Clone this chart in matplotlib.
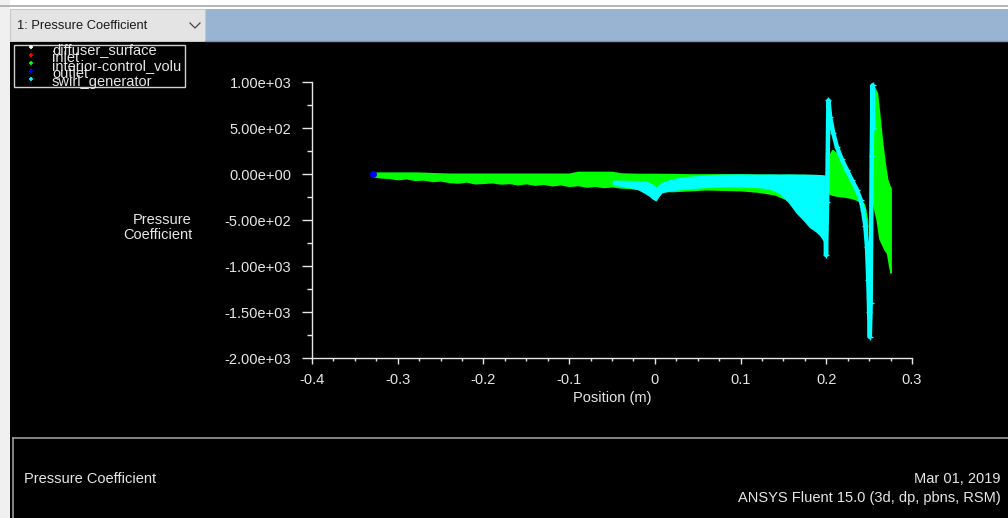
import matplotlib
matplotlib.use('Agg')
import matplotlib.pyplot as plt
from matplotlib.patches import Rectangle
from matplotlib.ticker import MultipleLocator, FuncFormatter

NARROW = ['Liberation Sans Narrow', 'Liberation Sans', 'DejaVu Sans']
FS = 10.5

# interior-control_volume: main band (top / bottom edge of the cloud)
green_x = [-0.329, -0.32, -0.31, -0.30, -0.29, -0.28, -0.27, -0.26, -0.25, -0.24,
           -0.23, -0.22, -0.21, -0.20, -0.19, -0.18, -0.17, -0.16, -0.15, -0.14,
           -0.13, -0.12, -0.11, -0.10, -0.09, -0.08, -0.07, -0.06, -0.05, -0.04,
           -0.03, -0.02, -0.01, 0.00, 0.02, 0.04, 0.06, 0.08, 0.10, 0.12,
           0.14, 0.16, 0.18, 0.19, 0.199]
green_top = [14, 14, 14, 14, 14, 14, 12, 8, 5, 2,
             2, 2, 2, 2, 2, 2, 2, 2, 2, 2,
             2, 2, 2, 2, 22, 22, 22, 22, 22, 5,
             2, 0, 0, 0, -2, -5, -5, -5, -5, -8,
             -10, -10, -12, -15, -20]
green_bot = [-25, -35, -40, -55, -45, -62, -58, -75, -68, -85,
             -92, -80, -100, -95, -88, -102, -96, -110, -98, -115,
             -104, -122, -110, -128, -118, -135, -126, -140, -132, -145,
             -150, -160, -170, -180, -185, -175, -165, -170, -175, -190,
             -220, -300, -420, -520, -600]

# swirl_generator: band along the lower side before x = 0.2
cyan_x = [-0.049, -0.04, -0.03, -0.02, -0.011, -0.006, -0.003, 0.001, 0.004, 0.008,
          0.018, 0.03, 0.041, 0.06, 0.076, 0.10, 0.123, 0.135, 0.146, 0.156,
          0.166, 0.174, 0.181, 0.188, 0.193, 0.197]
cyan_top = [-76, -76, -78, -80, -87, -100, -120, -150, -130, -100,
            -65, -45, -33, -20, -11, -8, -10, -8, -10, -8,
            -10, -10, -12, -12, -15, -20]
cyan_bot = [-110, -125, -140, -160, -206, -235, -261, -283, -240, -196,
            -174, -162, -152, -138, -130, -132, -141, -160, -206, -300,
            -424, -500, -576, -620, -663, -720]

# swirl_generator: the two spikes and the decay between them
spike_x = [0.1990, 0.1997, 0.2010, 0.2025, 0.2045, 0.2080, 0.2125, 0.2180, 0.2242, 0.2300,
           0.2358, 0.2400, 0.2428, 0.2455, 0.2475, 0.2490, 0.2500, 0.2508, 0.2518, 0.2530,
           0.2540, 0.2548]
spike_y = [-600, -880, -300, 800, 620, 450, 290, 160, 40, -70,
           -175, -280, -390, -560, -790, -1150, -1500, -1770, -1400, 200,
           965, 500]

# interior-control_volume: wedge under the decay and tail right of the spike
wedge_x = [0.2035, 0.2070, 0.2125, 0.2180, 0.2242, 0.2300, 0.2358, 0.2400, 0.2440, 0.2475]
wedge_top = [200, 260, 220, 120, 10, -90, -190, -290, -420, -640]
wedge_bot = [-210, -225, -235, -240, -250, -260, -280, -300, -330, -500]

tail_x = [0.2545, 0.2565, 0.2590, 0.2620, 0.2650, 0.2680, 0.2710, 0.2735, 0.2750]
tail_top = [960, 930, 880, 620, 350, 120, -60, -130, -150]
tail_bot = [-300, -400, -500, -700, -760, -820, -860, -1000, -1070]

outlet_x = [-0.329]
outlet_y = [-5]

legend_names = ['diffuser_surface', 'inlet', 'interior-control_volu', 'outlet', 'swirl_generator']
legend_colors = ['#ffffff', '#ff0000', '#00ff00', '#0000ff', '#00ffff']

GREEN = '#00ff00'
CYAN = '#00ffff'
FG = '#e6e6e6'

W, H = 1008, 518
fig = plt.figure(figsize=(W / 100, H / 100), dpi=100)
fig.patch.set_facecolor('#000000')

# ---- window chrome, drawn in pixel coordinates ----
bg = fig.add_axes([0, 0, 1, 1], zorder=0)
bg.set_xlim(0, W)
bg.set_ylim(H, 0)
bg.axis('off')
bg.add_patch(Rectangle((0, 0), W, 42, facecolor='#ffffff', edgecolor='none'))
bg.add_patch(Rectangle((0, 0), 10, H, facecolor='#f0f0f0', edgecolor='none'))
bg.plot([0, W], [5.5, 5.5], color='#a8a8a8', lw=1.2)
bg.add_patch(Rectangle((205, 9), W - 205, 32, facecolor='#98b4d2', edgecolor='none'))
bg.plot([205, W], [41, 41], color='#7b94b0', lw=1)
bg.add_patch(Rectangle((10, 9), 195, 32, facecolor='#e4e4e4', edgecolor='#c8c8c8', lw=0.8))
bg.text(17, 26, '1: Pressure Coefficient', fontsize=9.3, color='#1a1a1a',
        family=['Liberation Sans', 'DejaVu Sans'], ha='left', va='center')
bg.plot([190, 195, 200], [23, 28, 23], color='#444444', lw=0.9)
bg.add_patch(Rectangle((10, 42), W - 10, H - 42, facecolor='#000000', edgecolor='none'))
bg.plot([12.5, W], [437.5, 437.5], color='#9a9a9a', lw=1.2)
bg.plot([12.5, 12.5], [437.5, H], color='#9a9a9a', lw=1.2)
bg.text(24, 479, 'Pressure Coefficient', fontsize=FS, color=FG, family=NARROW,
        ha='left', va='center')
bg.text(1001, 479, 'Mar 01, 2019', fontsize=FS, color=FG, family=NARROW,
        ha='right', va='center')
bg.text(1001, 498, 'ANSYS Fluent 15.0 (3d, dp, pbns, RSM)', fontsize=FS, color=FG,
        family=NARROW, ha='right', va='center')

# legend box
bg.add_patch(Rectangle((13.5, 44.5), 171, 42, facecolor='#000000', edgecolor='#d0d0d0', lw=1))
for i, (name, col) in enumerate(zip(legend_names, legend_colors)):
    yy = 50 + i * 8
    bg.plot([31], [yy - 3], marker='+', ms=3.5, mew=1.2, color=col, linestyle='none')
    bg.text(52, yy, name, fontsize=FS, color=FG, family=NARROW, ha='left', va='center')

# ---- plot axes ----
ax = fig.add_axes([312 / W, (H - 358) / H, 600 / W, 276 / H], zorder=2)
ax.set_facecolor('none')
ax.set_xlim(-0.4, 0.3)
ax.set_ylim(-2000, 1000)

ax.fill_between(green_x, green_bot, green_top, color=GREEN, lw=1.2, edgecolor=GREEN, zorder=2)
ax.fill_between(cyan_x, cyan_bot, cyan_top, color=CYAN, lw=1.2, edgecolor=CYAN, zorder=3)
ax.fill_between(wedge_x, wedge_bot, wedge_top, color=GREEN, lw=1.2, edgecolor=GREEN, zorder=2)
ax.fill_between(tail_x, tail_bot, tail_top, color=GREEN, lw=1.2, edgecolor=GREEN, zorder=2)
ax.plot(spike_x, spike_y, color=CYAN, lw=3.2, solid_joinstyle='round', zorder=4)
ax.plot(spike_x, spike_y, color=CYAN, lw=0, marker='+', ms=4, zorder=4)
ax.plot(outlet_x, outlet_y, 'o', color='#0000ff', ms=4, zorder=5)

for side in ['top', 'right']:
    ax.spines[side].set_visible(False)
for side in ['left', 'bottom']:
    ax.spines[side].set_color(FG)
    ax.spines[side].set_linewidth(1)

ax.xaxis.set_major_locator(MultipleLocator(0.1))
ax.xaxis.set_minor_locator(MultipleLocator(0.025))
ax.yaxis.set_major_locator(MultipleLocator(500))
ax.yaxis.set_minor_locator(MultipleLocator(250))
ax.xaxis.set_major_formatter(FuncFormatter(lambda v, p: '0' if abs(v) < 1e-9 else f'{v:.1f}'))
ax.yaxis.set_major_formatter(FuncFormatter(lambda v, p: f'{v:.2e}'))
ax.tick_params(axis='y', which='major', length=7, width=1, color=FG, pad=8)
ax.tick_params(axis='y', which='minor', length=3.6, width=1, color=FG)
ax.tick_params(axis='x', which='major', length=4, width=1, color=FG, pad=7)
ax.tick_params(axis='x', which='minor', length=2, width=1, color=FG)
for lab in ax.get_xticklabels() + ax.get_yticklabels():
    lab.set_family(NARROW)
    lab.set_fontsize(FS)
    lab.set_color(FG)

ax.set_xlabel('Position (m)', fontsize=FS, color=FG, family=NARROW, va='center')
ax.xaxis.set_label_coords(0.5, -(398 - 358) / 276)
ax.set_ylabel('Pressure\nCoefficient', fontsize=FS, color=FG, family=NARROW,
              rotation=0, ha='right', va='center', multialignment='right',
              linespacing=1.15)
ax.yaxis.set_label_coords((192 - 312) / 600, (358 - 227.5) / 276)

fig.savefig('out.png', dpi=100, facecolor=fig.get_facecolor())
